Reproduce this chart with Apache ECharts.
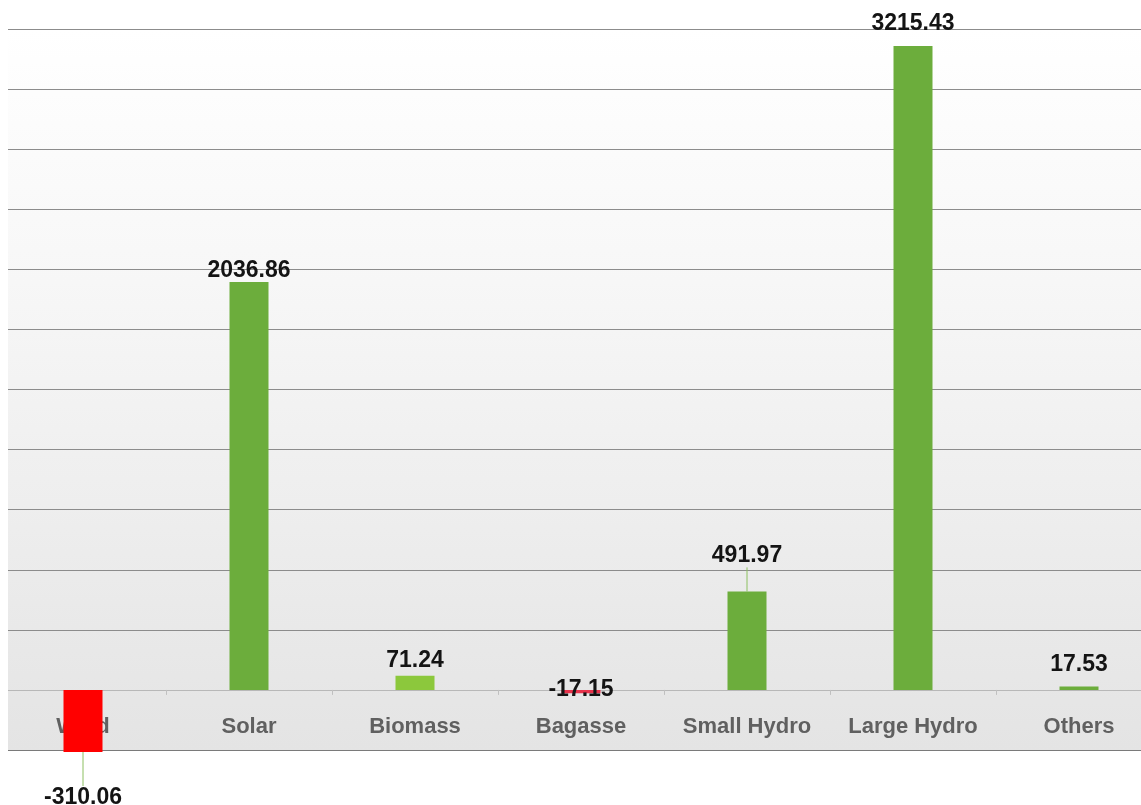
<!DOCTYPE html>
<html>
<head>
<meta charset="utf-8">
<script src="https://cdn.jsdelivr.net/npm/echarts@6/dist/echarts.min.js"></script>
<style>
html,body{margin:0;padding:0;background:#fff;}
#chart{width:1141px;height:805px;}
</style>
</head>
<body>
<div id="chart"></div>
<script>
const categories = ['Wind', 'Solar', 'Biomass', 'Bagasse', 'Small Hydro', 'Large Hydro', 'Others'];
const values = [-310.06, 2036.86, 71.24, -17.15, 491.97, 3215.43, 17.53];
const yTicks = { min: -300, max: 3300, interval: 300 };

// styles (kept separate from data)
const barColors = ['#ff0000', '#6cad3c', '#8cc83c', '#e8334c', '#6cad3c', '#6cad3c', '#6cad3c'];
const labelPos = ['bottom', 'top', 'top', 'inside', 'top', 'top', 'top'];
const labelDist = [8, 0, 3, 0, 6, 11, 10];
const labelDy = [26, 0, 0, -2, -18, 0, 0];

const chart = echarts.init(document.getElementById('chart'));
const gridColors = [];
for (let v = yTicks.min; v <= yTicks.max; v += yTicks.interval) {
  gridColors.push(v === yTicks.min ? '#7a7a7a' : (v === 0 ? '#b8b8b8' : '#8c8c8c'));
}

const leaderStyle = { color: '#8cc060', width: 1, opacity: 1 };
const data = values.map((v, i) => ({
  value: v,
  itemStyle: { color: barColors[i] },
  label: { position: labelPos[i], distance: labelDist[i] },
  labelLine: { show: Math.abs(labelDy[i]) > 10, lineStyle: leaderStyle }
}));

chart.setOption({
  animation: false,
  backgroundColor: '#ffffff',
  grid: {
    left: 0, width: 1162, top: 29, bottom: 55,
    outerBoundsMode: 'none',
    containLabel: false,
    show: true, borderWidth: 0,
    backgroundColor: new echarts.graphic.LinearGradient(0, 0, 0, 1, [
      { offset: 0, color: '#ffffff' },
      { offset: 0.35, color: '#f7f7f7' },
      { offset: 1, color: '#e4e4e4' }
    ])
  },
  graphic: [{
    type: 'rect', left: 0, top: 0, z: 10,
    shape: { width: 8, height: 805 },
    style: { fill: '#ffffff' }
  }],
  xAxis: {
    type: 'category',
    data: categories,
    axisLine: { show: true, onZero: true, lineStyle: { color: '#b8b8b8', width: 1 } },
    axisTick: { show: true, length: 5, lineStyle: { color: '#c0c0c0' } },
    axisLabel: { interval: 0, hideOverlap: false, margin: -34, fontSize: 22, fontWeight: 'bold', color: '#606060', fontFamily: 'Liberation Sans, Arial, sans-serif' },
    splitLine: { show: false }
  },
  yAxis: {
    type: 'value',
    min: yTicks.min, max: yTicks.max, interval: yTicks.interval,
    axisLabel: { show: false },
    axisLine: { show: false },
    axisTick: { show: false },
    splitLine: { show: true, lineStyle: { color: gridColors, width: 1.2 } }
  },
  series: [{
    type: 'bar',
    data: data,
    barWidth: 39,
    clip: false,
    label: {
      show: true,
      fontSize: 23,
      fontWeight: 'bold',
      color: '#141414',
      fontFamily: 'Liberation Sans, Arial, sans-serif',
      formatter: p => p.value.toFixed(2)
    },
    labelLine: { show: false, lineStyle: leaderStyle },
    labelLayout: function (params) {
      return { dy: labelDy[params.dataIndex] };
    }
  }]
});
</script>
</body>
</html>
